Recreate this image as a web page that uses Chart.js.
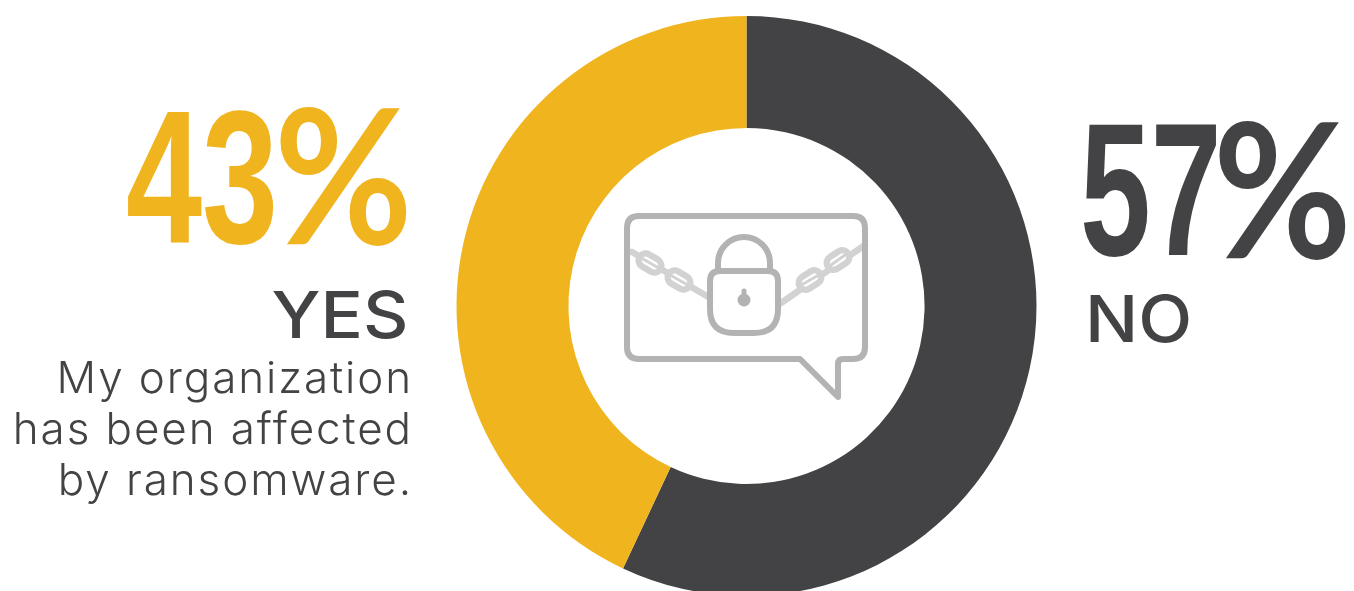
<!DOCTYPE html>
<html>
<head>
<meta charset="utf-8">
<title>Ransomware</title>
<script src="https://cdn.jsdelivr.net/npm/chart.js@4"></script>
<style>
html, body { margin: 0; background: #fff; overflow: hidden; }
#stage { position: relative; width: 1354px; height: 591px; overflow: hidden; }
#ring { position: absolute; left: 0; top: 0; }
#icon { position: absolute; left: 0; top: 0; }
.t { position: absolute; white-space: nowrap; color: #434345; font-family: Inter, "Open Sans", sans-serif; }
.num { position: absolute; white-space: nowrap; font-family: "Liberation Sans", sans-serif; font-weight: 700; font-size: 190px; line-height: 190px; transform-origin: 0 0; transform: scaleX(0.72); }
.pct { position: absolute; white-space: nowrap; font-family: Lato, sans-serif; font-weight: 700; font-size: 187px; line-height: 187px; transform-origin: 0 0; transform: scaleX(0.905); }
.head { font-size: 64px; font-weight: 500; line-height: 64px; }
.note { font-size: 44px; font-weight: 300; line-height: 51px; right: 941px; text-align: right; letter-spacing: 1.9px; }
</style>
</head>
<body>
<div id="stage">
    <canvas id="ring" width="1354" height="612"></canvas>
    <svg id="icon" width="1354" height="591" fill="none" stroke-linecap="round" stroke-linejoin="round">
        <!-- chain links behind the padlock -->
        <g stroke="#d2d2d2" stroke-width="6.5">
            <path d="M632 252 L710 298"/>
            <path d="M865 245 L781 303"/>
            <g fill="#fff">
                <rect x="-12" y="-7" width="24" height="14" rx="7" transform="translate(650 263) rotate(31)"/>
                <rect x="-12" y="-7" width="24" height="14" rx="7" transform="translate(679 280) rotate(31)"/>
                <rect x="-12" y="-7" width="24" height="14" rx="7" transform="translate(810 280) rotate(-33)"/>
                <rect x="-12" y="-7" width="24" height="14" rx="7" transform="translate(838 260) rotate(-33)"/>
            </g>
            <path d="M643 259 L657 267 M672 276 L686 284 M803 284 L817 276 M831 265 L845 255" stroke-width="3"/>
        </g>
        <!-- speech bubble -->
        <path stroke="#b3b3b3" stroke-width="6" d="M639 216 H853 Q865 216 865 228 V347 Q865 359 853 359 H843 Q838 359 838 364 V397 L800 359 H639 Q627 359 627 347 V228 Q627 216 639 216 Z"/>
        <!-- padlock -->
        <g stroke="#b3b3b3" stroke-width="6">
            <path fill="#fff" d="M718 271 V263 A26 26 0 0 1 770 263 V271"/>
            <path fill="#fff" d="M720 271 H768 Q778 271 778 281 V309 Q778 333 754 333 H734 Q710 333 710 309 V281 Q710 271 720 271 Z"/>
        </g>
        <circle cx="744" cy="300" r="6.5" fill="#b3b3b3"/>
        <path stroke="#b3b3b3" stroke-width="5" d="M744 291 V298"/>
    </svg>
    <div class="num" id="yesNum" style="left:126px;top:82px;color:#f0b41e"></div>
    <div class="pct" style="left:274px;top:78px;color:#f0b41e">%</div>
    <div class="t head" id="yesLabel" style="right:946px;top:283px;transform-origin:100% 50%;transform:scaleX(1.1)"></div>
    <div class="t note" id="yesNote" style="top:352px"></div>
    <div class="num" id="noNum" style="left:1080px;top:94px;color:#434345;transform:scaleX(0.67)"></div>
    <div class="pct" style="left:1213px;top:92px;color:#434345">%</div>
    <div class="t head" id="noLabel" style="left:1085px;top:287px;transform-origin:0 50%;transform:scaleX(1.1)"></div>
</div>

<script>
// Survey answers, drawn clockwise from twelve o'clock
const answers = ['NO', 'YES'];
const shares = [57, 43];
const ringColors = ['#434345', '#f0b41e'];
const noteLines = ['My organization', 'has been affected', 'by ransomware.'];

// Function for the doughnut
const ringCtx = document.getElementById('ring').getContext('2d');
const ringChart = new Chart(ringCtx, {
    type: 'doughnut',
    data: {
        labels: answers,
        datasets: [{
            data: shares,
            backgroundColor: ringColors,
            borderWidth: 0
        }]
    },
    options: {
        responsive: false,
        animation: false,
        cutout: '61.4%',
        layout: { padding: { left: 139, top: 16, bottom: 16 } },
        plugins: {
            legend: { display: false },
            tooltip: { enabled: false }
        }
    }
});

// Fill in the captions from the same arrays
const yesIndex = answers.indexOf('YES');
const noIndex = answers.indexOf('NO');
document.getElementById('yesNum').textContent = shares[yesIndex];
document.getElementById('noNum').textContent = shares[noIndex];
document.getElementById('yesLabel').textContent = answers[yesIndex];
document.getElementById('noLabel').textContent = answers[noIndex];
document.getElementById('yesNote').innerHTML = noteLines.join('<br>');
</script>
</body>
</html>
